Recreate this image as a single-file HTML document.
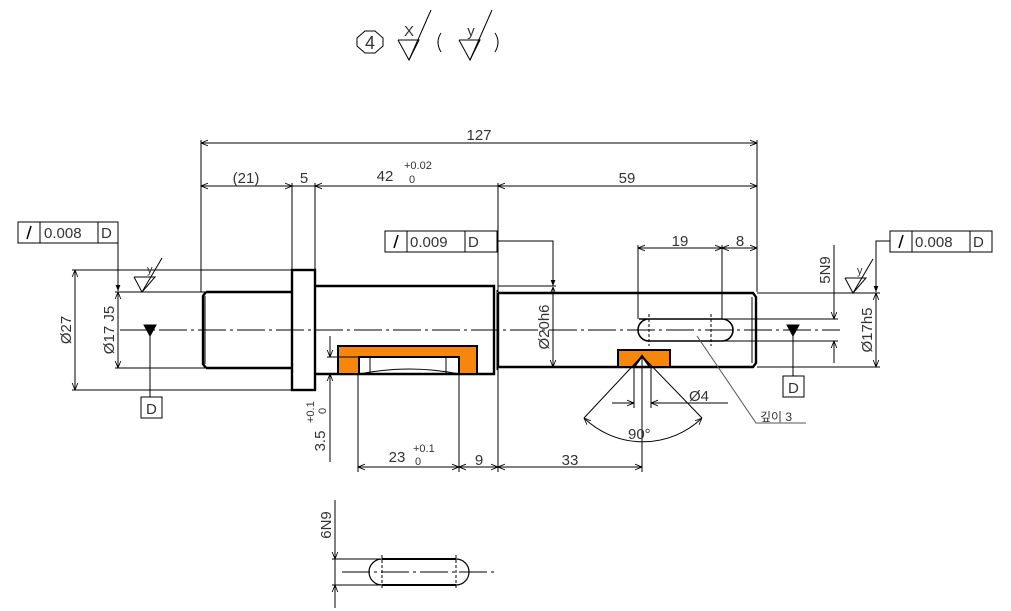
<!DOCTYPE html>
<html><head><meta charset="utf-8"><style>
html,body{margin:0;padding:0;background:#fff}
svg{display:block}
text{font-family:"Liberation Sans","Noto Sans CJK KR",sans-serif;fill:#333}
</style></head><body>
<svg width="1011" height="611" viewBox="0 0 1011 611" xmlns="http://www.w3.org/2000/svg">
<defs>
<marker id="a" viewBox="0 0 10 10" refX="10" refY="5" markerWidth="7" markerHeight="7" orient="auto-start-reverse"><path d="M0,1 L10,5 L0,9" fill="none" stroke="#000" stroke-width="1.2"/></marker>
<marker id="f" viewBox="0 0 10 10" refX="10" refY="5" markerWidth="6" markerHeight="6" orient="auto-start-reverse"><path d="M0,1 L10,5 L0,9 z" fill="#000"/></marker>
</defs>
<g stroke="#000" stroke-width="1" fill="none">
<polygon points="365,31 375,31 383,38 383,46 375,53 365,53 357,46 357,38"/>
<polyline points="398,40 419,40 409,60 398,40"/>
<line x1="409" y1="60" x2="431" y2="10"/>
<path d="M441,33 Q435,42 441,52"/>
<polyline points="459,40 480,40 470,60 459,40"/>
<line x1="470" y1="60" x2="492" y2="10"/>
<path d="M495,33 Q501,42 495,52"/>

<line x1="201" y1="140" x2="201" y2="292"/>
<line x1="757" y1="140" x2="757" y2="292"/>
<line x1="292" y1="183" x2="292" y2="270"/>
<line x1="315" y1="183" x2="315" y2="285"/>
<line x1="498" y1="183" x2="498" y2="292"/>
<line x1="201" y1="143" x2="757" y2="143" marker-start="url(#a)" marker-end="url(#a)"/>
<line x1="201" y1="186" x2="292" y2="186" marker-start="url(#a)" marker-end="url(#a)"/>
<line x1="315" y1="186" x2="498" y2="186" marker-start="url(#a)"/>
<line x1="498" y1="186" x2="757" y2="186" marker-start="url(#a)" marker-end="url(#a)"/>
<line x1="292" y1="186" x2="315" y2="186"/>

<line x1="120" y1="330" x2="840" y2="330" stroke-dasharray="28,4,3,4"/>

<g stroke-width="2.4">
<path d="M206,292 L292,292 M206,368 L292,368"/>
<path d="M206,292 L203,296 L203,364 L206,368"/>
<rect x="292" y="270" width="23" height="120"/>
<path d="M315,286 L494,286 L494,374 L315,374"/>
<path d="M498,293 L753,293 L756,297 L756,363 L753,367 L498,367 L498,293"/>
<path d="M639,319 L722,319 A11,11 0 0 1 722,341 L649,341 A11,11 0 0 1 649,319 Z" stroke-width="1.6"/>
</g>
<line x1="205" y1="296" x2="205" y2="364"/>
<line x1="497" y1="290" x2="497" y2="370"/>
<line x1="752" y1="297" x2="752" y2="363"/>
<line x1="649" y1="314" x2="649" y2="346" stroke-dasharray="3,2"/>
<line x1="711" y1="314" x2="711" y2="346" stroke-dasharray="3,2"/>

<path d="M338,346 L477,346 L477,374 L459,374 L459,357 L359,357 L359,374 L338,374 Z" fill="#f7870c" stroke-width="2"/>
<path d="M359,374 Q409,364 459,374" stroke-width="1"/>
<path d="M618,350 L670,350 L670,367 L650,367 L642,356 L634,367 L618,367 Z" fill="#f7870c" stroke-width="2"/>
<line x1="370" y1="357" x2="370" y2="374"/>
<line x1="446" y1="357" x2="446" y2="374"/>

<line x1="72" y1="270" x2="292" y2="270"/>
<line x1="72" y1="390" x2="292" y2="390"/>
<line x1="75" y1="270" x2="75" y2="390" marker-start="url(#a)" marker-end="url(#a)"/>
<line x1="115" y1="292" x2="206" y2="292"/>
<line x1="115" y1="368" x2="206" y2="368"/>
<line x1="118" y1="292" x2="118" y2="368" marker-start="url(#a)" marker-end="url(#a)"/>
<rect x="18" y="222" width="100" height="21"/>
<line x1="40" y1="222" x2="40" y2="243"/><line x1="98" y1="222" x2="98" y2="243"/>
<polyline points="118,243 118,291" marker-end="url(#f)"/>
<polyline points="134,277 155,277 142,292 134,277"/>
<line x1="142" y1="292" x2="162" y2="258"/>
<path d="M144,325 L156,325 L150,336 Z" fill="#000"/>
<line x1="150" y1="330" x2="150" y2="397"/>
<rect x="141" y="397" width="21" height="21"/>

<rect x="385" y="231" width="112" height="21"/>
<line x1="407" y1="231" x2="407" y2="252"/><line x1="465" y1="231" x2="465" y2="252"/>
<polyline points="497,241 553,241 553,286" marker-end="url(#f)"/>
<line x1="498" y1="286" x2="556" y2="286"/>
<line x1="498" y1="367" x2="556" y2="367"/>
<line x1="553" y1="287" x2="553" y2="367" marker-start="url(#a)" marker-end="url(#a)"/>

<line x1="327" y1="357" x2="359" y2="357"/>
<line x1="327" y1="374" x2="338" y2="374"/>
<line x1="330" y1="336" x2="330" y2="357" marker-end="url(#a)"/>
<line x1="330" y1="462" x2="330" y2="374" marker-end="url(#a)"/>
<line x1="358" y1="374" x2="358" y2="472"/>
<line x1="459" y1="374" x2="459" y2="472"/>
<line x1="498" y1="367" x2="498" y2="472"/>
<line x1="642" y1="356" x2="642" y2="472"/>
<line x1="358" y1="467" x2="459" y2="467" marker-start="url(#a)" marker-end="url(#a)"/>
<line x1="459" y1="467" x2="498" y2="467" marker-start="url(#a)" marker-end="url(#a)"/>
<line x1="498" y1="467" x2="642" y2="467" marker-start="url(#a)" marker-end="url(#a)"/>

<line x1="634" y1="367" x2="634" y2="408"/>
<line x1="651" y1="367" x2="651" y2="408"/>
<line x1="612" y1="403" x2="634" y2="403" marker-end="url(#a)"/>
<line x1="728" y1="403" x2="651" y2="403" marker-end="url(#a)"/>
<line x1="642" y1="356" x2="584" y2="418"/>
<line x1="642" y1="356" x2="702" y2="418"/>
<path d="M584,418 A85,85 0 0 0 702,418" marker-start="url(#a)" marker-end="url(#a)"/>
<polyline points="697,336 756,423 806,423" stroke="#555"/>

<line x1="638" y1="245" x2="638" y2="319"/>
<line x1="722" y1="245" x2="722" y2="319"/>
<line x1="638" y1="248" x2="722" y2="248" marker-start="url(#a)" marker-end="url(#a)"/>
<line x1="722" y1="248" x2="757" y2="248" marker-start="url(#a)" marker-end="url(#a)"/>
<line x1="722" y1="319" x2="838" y2="319"/>
<line x1="722" y1="341" x2="838" y2="341"/>
<line x1="834" y1="245" x2="834" y2="319" marker-end="url(#a)"/>
<line x1="834" y1="363" x2="834" y2="341" marker-end="url(#a)"/>

<line x1="757" y1="293" x2="880" y2="293"/>
<line x1="757" y1="367" x2="880" y2="367"/>
<line x1="876" y1="293" x2="876" y2="367" marker-start="url(#a)" marker-end="url(#a)"/>
<rect x="890" y="231" width="102" height="21"/>
<line x1="912" y1="231" x2="912" y2="252"/><line x1="970" y1="231" x2="970" y2="252"/>
<polyline points="890,241 876,241 876,292" marker-end="url(#f)"/>
<polyline points="845,278 866,278 853,293 845,278"/>
<line x1="853" y1="293" x2="873" y2="259"/>
<path d="M787,325 L799,325 L793,336 Z" fill="#000"/>
<line x1="793" y1="330" x2="793" y2="376"/>
<rect x="783" y="376" width="21" height="21"/>

<line x1="335" y1="500" x2="335" y2="608"/>
<line x1="332" y1="559" x2="382" y2="559"/>
<line x1="332" y1="585" x2="382" y2="585"/>
<line x1="335" y1="545" x2="335" y2="559" marker-end="url(#a)"/>
<line x1="335" y1="600" x2="335" y2="585" marker-end="url(#a)"/>
<line x1="342" y1="572" x2="497" y2="572" stroke-dasharray="28,4,3,4"/>
<path d="M382,559 L456,559 A13,13 0 0 1 456,585 L382,585 A13,13 0 0 1 382,559 Z" stroke-width="1.2"/>
<line x1="382" y1="559" x2="456" y2="559" stroke-width="2"/>
<line x1="382" y1="585" x2="456" y2="585" stroke-width="2"/>
<line x1="382" y1="555" x2="382" y2="589" stroke-dasharray="3,2"/>
<line x1="456" y1="555" x2="456" y2="589" stroke-dasharray="3,2"/>
</g>
<g stroke="#000" stroke-width="1.5">
<line x1="27" y1="239" x2="31" y2="226"/>
<line x1="394" y1="248" x2="398" y2="235"/>
<line x1="899" y1="248" x2="903" y2="235"/>
</g>
<g font-size="15">
<text x="370" y="49" text-anchor="middle" font-size="18">4</text>
<text x="409" y="36" text-anchor="middle" font-size="15">X</text>
<text x="471" y="36" text-anchor="middle" font-size="15">y</text>
<text x="479" y="140" text-anchor="middle">127</text>
<text x="246" y="183" text-anchor="middle">(21)</text>
<text x="304" y="183" text-anchor="middle">5</text>
<text x="385" y="181" text-anchor="middle">42</text>
<text x="404" y="169" font-size="11">+0.02</text>
<text x="409" y="183" font-size="11">0</text>
<text x="627" y="183" text-anchor="middle">59</text>
<text x="44" y="238">0.008</text><text x="101" y="238">D</text>
<text x="410" y="247">0.009</text><text x="468" y="247">D</text>
<text x="915" y="247">0.008</text><text x="973" y="247">D</text>
<text x="146" y="414">D</text>
<text x="788" y="393">D</text>
<text x="680" y="246" text-anchor="middle">19</text>
<text x="740" y="246" text-anchor="middle">8</text>
<text x="689" y="401">Ø4</text>
<text x="628" y="439">90°</text>
<text x="760" y="421" font-size="12">깊이 3</text>
<text x="397" y="462" text-anchor="middle">23</text>
<text x="413" y="452" font-size="11">+0.1</text>
<text x="415" y="465" font-size="11">0</text>
<text x="479" y="465" text-anchor="middle">9</text>
<text x="570" y="465" text-anchor="middle">33</text>
<text x="147" y="273" font-size="11">y</text>
<text x="857" y="274" font-size="11">y</text>
<text transform="translate(71,330) rotate(-90)" text-anchor="middle">Ø27</text>
<text transform="translate(114,330) rotate(-90)" text-anchor="middle">Ø17 J5</text>
<text transform="translate(549,327) rotate(-90)" text-anchor="middle">Ø20h6</text>
<text transform="translate(872,330) rotate(-90)" text-anchor="middle">Ø17h5</text>
<text transform="translate(830,270) rotate(-90)" text-anchor="middle">5N9</text>
<text transform="translate(331,525) rotate(-90)" text-anchor="middle">6N9</text>
<text transform="translate(325,441) rotate(-90)" text-anchor="middle">3.5</text>
<text transform="translate(314,423) rotate(-90)" font-size="11">+0.1</text>
<text transform="translate(326,414) rotate(-90)" font-size="11">0</text>
</g>
</svg>
</body></html>
